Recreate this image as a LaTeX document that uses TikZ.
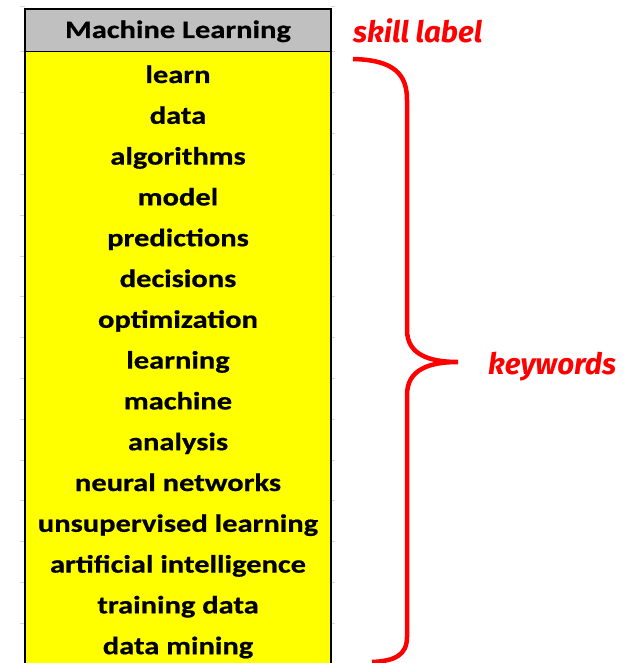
\documentclass[tikz,border=0pt]{standalone}
\usepackage{fontspec}
\setmainfont{Carlito}[FakeStretch=1.22,FakeBold=0.6]
\newfontfamily\notefont{Fira Sans}
\definecolor{cellyellow}{RGB}{255,255,0}
\definecolor{cellgray}{RGB}{192,192,192}
\definecolor{gridgray}{RGB}{215,215,215}
\tikzset{
  cell/.style={font=\bfseries\fontsize{25}{25}\selectfont, inner sep=0pt, anchor=base},
  note/.style={red, font=\notefont\bfseries\itshape\fontsize{29.5}{29.5}\selectfont, inner sep=0pt, anchor=base west},
  brace/.style={red, line width=4.5pt},
}

\begin{document}
\begin{tikzpicture}[x=1pt,y=-1pt]
  \useasboundingbox (0,0) rectangle (634,663);
  % sheet grid ticks
  \foreach \k in {0,...,15} {
    \draw[gridgray,line width=1pt] (20,{52+40.8*(\k-1)+(\k==0)*-5}) -- (25,{52+40.8*(\k-1)+(\k==0)*-5});
    \draw[gridgray,line width=1pt] (331,{52+40.8*(\k-1)+(\k==0)*-5}) -- (335,{52+40.8*(\k-1)+(\k==0)*-5});
  }
  % header cell
  \draw[fill=cellgray,line width=2.5pt] (25,9) rectangle (331,52);
  \node[cell] (title) at (178,38) {Machine Learning};
  % keyword cells
  \fill[cellyellow] (25,52) rectangle (331,663);
  \draw[line width=2.5pt] (25,52) -- (25,663) (331,52) -- (331,663);
  \foreach \word [count=\i] in {learn, data, algorithms, model, predictions,
      decisions, optimization, learning, machine, analysis, neural networks,
      unsupervised learning, artificial intelligence, training data, data mining}
    \node[cell] (kw\i) at (178,{83+40.8*(\i-1)}) {\word};
  % brace
  \draw[brace] (353,59) .. controls (395,60) and (407,75) .. (407,100)
    -- (407,330) .. controls (407,355) and (430,362) .. (458,362)
    .. controls (430,362) and (407,369) .. (407,395)
    -- (407,637) .. controls (407,655) and (395,661) .. (372,662);
  \node[note] (skill) at (353,43) {skill label};
  \node[note] (keys) at (488,374) {keywords};
\end{tikzpicture}
\end{document}
